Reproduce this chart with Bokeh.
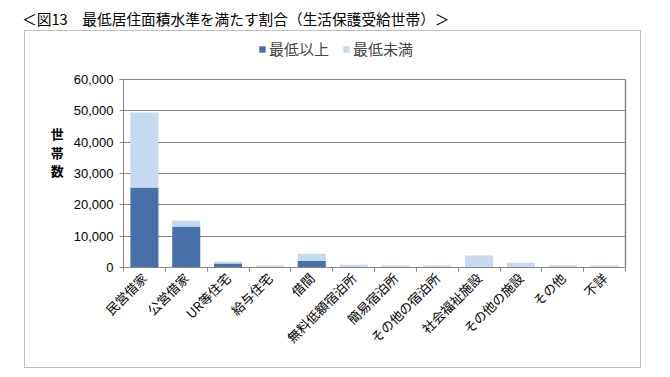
from bokeh.plotting import figure
from bokeh.models import (ColumnDataSource, Range1d, FixedTicker, NumeralTickFormatter,
                          Legend, Div, LinearAxis)
from bokeh.layouts import column
from bokeh.embed import file_html
from bokeh.resources import INLINE

categories = ["民営借家", "公営借家", "UR等住宅", "給与住宅", "借間", "無料低額宿泊所",
              "簡易宿泊所", "その他の宿泊所", "社会福祉施設", "その他の施設", "その他", "不詳"]
above_min = [25500, 13100, 1300, 250, 2100, 100, 100, 100, 150, 150, 100, 250]
below_min = [24000, 1900, 500, 350, 2300, 800, 500, 500, 3650, 1350, 600, 350]
series_names = ["最低以上", "最低未満"]
y_ticks = [0, 10000, 20000, 30000, 40000, 50000, 60000]
title_text = "＜図13　最低居住面積水準を満たす割合（生活保護受給世帯）＞"
y_label = "世\n帯\n数"

DARK = "#4570A8"
LIGHT = "#C6D9F0"
JP = "Noto Sans CJK JP"
GRID = "#868686"

n = len(categories)
YTOP = y_ticks[-1]
# frame: figure-relative top 5, bottom 236; value YTOP sits at figure y 48
FRAME_TOP, FRAME_BOTTOM, VAL_TOP_PX = 5, 236, 48
y_end = YTOP * (FRAME_BOTTOM - FRAME_TOP) / (FRAME_BOTTOM - VAL_TOP_PX)

src = ColumnDataSource(dict(x=[i + 0.5 for i in range(n)], above=above_min, below=below_min))

title = Div(text=title_text, width=670, height=31, margin=(0, 0, 0, 0),
            styles={"font-family": JP, "font-size": "14.7px", "color": "#000",
                    "padding-left": "22px", "padding-top": "9px", "line-height": "20px",
                    "white-space": "nowrap", "box-sizing": "border-box"})

p = figure(width=615, height=336, output_backend="svg", toolbar_location=None,
           x_range=Range1d(0, n), y_range=Range1d(0, y_end),
           min_border_left=98, min_border_right=15, min_border_top=FRAME_TOP,
           min_border_bottom=336 - FRAME_BOTTOM,
           margin=(0, 0, 0, 25), styles={"outline": "1.5px solid #BFBFBF"})
p.title.visible = False

rs = p.vbar_stack(["above", "below"], x="x", width=0.67, source=src,
                  color=[DARK, LIGHT], line_color=None)

p.xaxis.ticker = FixedTicker(ticks=[i + 0.5 for i in range(n)], minor_ticks=list(range(n + 1)))
p.xaxis.major_label_overrides = {i + 0.5: c for i, c in enumerate(categories)}
p.xaxis.major_label_orientation = 0.785398
p.xaxis.major_tick_out = 0
p.xaxis.major_tick_in = 0
p.xaxis.minor_tick_out = 4
p.xaxis.minor_tick_in = 0
p.xaxis.minor_tick_line_color = GRID
p.xaxis.axis_line_color = GRID
p.xaxis.major_label_text_font = JP
p.xaxis.major_label_text_font_size = "13px"
p.xaxis.major_label_text_color = "#000000"
p.xaxis.major_label_standoff = 4

p.yaxis.ticker = FixedTicker(ticks=y_ticks)
p.yaxis.bounds = (0, YTOP)
p.yaxis.formatter = NumeralTickFormatter(format="0,0")
p.yaxis.major_tick_out = 4
p.yaxis.major_tick_in = 0
p.yaxis.minor_tick_line_color = None
p.yaxis.major_tick_line_color = GRID
p.yaxis.axis_line_color = GRID
p.yaxis.major_label_text_font = "Liberation Sans"
p.yaxis.major_label_text_font_size = "13px"
p.yaxis.major_label_text_color = "#000000"
p.yaxis.major_label_standoff = 6
p.yaxis.axis_label = y_label
p.yaxis.axis_label_orientation = "horizontal"
p.yaxis.axis_label_text_font = JP
p.yaxis.axis_label_text_font_size = "13px"
p.yaxis.axis_label_text_font_style = "bold"
p.yaxis.axis_label_text_color = "#000000"
p.yaxis.axis_label_text_line_height = 0.95
p.yaxis.axis_label_standoff = 7

right = LinearAxis(ticker=FixedTicker(ticks=[]), bounds=(0, YTOP), axis_line_color=GRID,
                   axis_line_width=1.5, major_tick_line_color=None, minor_tick_line_color=None)
p.add_layout(right, "right")

p.xgrid.grid_line_color = None
p.ygrid.grid_line_color = GRID
p.outline_line_color = None

legend = Legend(items=[(series_names[0], [rs[0]]), (series_names[1], [rs[1]])],
                orientation="horizontal", location=(133, 206),
                glyph_width=8, glyph_height=8, label_standoff=3, spacing=13,
                padding=2, margin=0, border_line_alpha=0, background_fill_alpha=0,
                label_text_font=JP, label_text_font_size="15px", label_height=15,
                label_text_baseline="middle")
p.add_layout(legend)

layout = column(title, p, spacing=0, margin=(0, 0, 0, 0))
open("out.html", "w").write(file_html(layout, INLINE))
